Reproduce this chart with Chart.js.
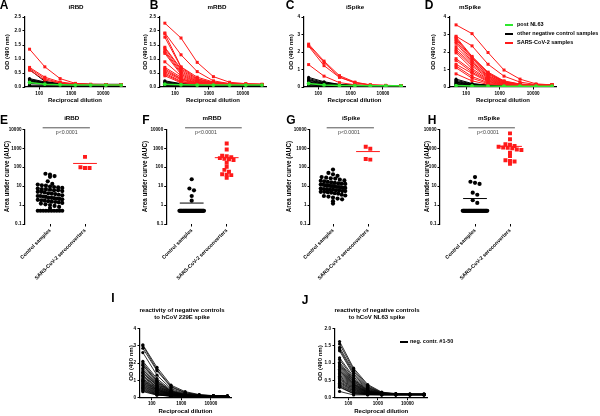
<!DOCTYPE html>
<html>
<head>
<meta charset="utf-8">
<script src="https://cdn.jsdelivr.net/npm/chart.js@4.4.0/dist/chart.umd.min.js"></script>
<style>
  html, body { margin: 0; padding: 0; background: #fff; }
  #fig { position: relative; width: 600px; height: 416px; overflow: hidden; font-family: "Liberation Sans", Arial, sans-serif; }
  #fig canvas { position: absolute; }
  .txt { position: absolute; white-space: nowrap; line-height: 1; color: #000; }
</style>
</head>
<body>
<div id="fig"></div>
<script>
// ---- data ----
const dilutions = [50, 150, 450, 1350, 4050, 12150, 36450];
const dilutionTicks = [100, 1000, 10000];
const aucTicks = [0.1, 1, 10, 100, 1000, 10000];
const groups = ['Control samples', 'SARS-CoV-2 seroconverters'];

// A iRBD
const iRBDPost = [0.16, 0.10, 0.08, 0.07, 0.07, 0.07, 0.07];
const iRBDNeg = [
  [0.62, 0.20, 0.12, 0.10, 0.09, 0.09, 0.09],
  [0.30, 0.18, 0.12, 0.10, 0.09, 0.09, 0.09],
  [0.27, 0.16, 0.11, 0.10, 0.09, 0.09, 0.09],
  [0.25, 0.15, 0.11, 0.10, 0.09, 0.09, 0.09],
  [0.22, 0.14, 0.10, 0.09, 0.09, 0.09, 0.09],
  [0.20, 0.13, 0.10, 0.09, 0.09, 0.09, 0.09],
  [0.18, 0.12, 0.10, 0.09, 0.09, 0.09, 0.09],
  [0.15, 0.11, 0.09, 0.09, 0.09, 0.09, 0.09],
  [0.12, 0.10, 0.09, 0.09, 0.09, 0.09, 0.09],
  [0.06, 0.06, 0.06, 0.06, 0.06, 0.06, 0.06]
];
const iRBDSars = [
  [1.35, 0.72, 0.30, 0.13, 0.10, 0.09, 0.09],
  [0.70, 0.35, 0.18, 0.11, 0.09, 0.09, 0.08],
  [0.66, 0.30, 0.15, 0.10, 0.09, 0.08, 0.08],
  [0.60, 0.25, 0.14, 0.10, 0.09, 0.08, 0.08]
];

// B mRBD
const mRBDPost = [0.10, 0.08, 0.07, 0.07, 0.07, 0.07, 0.07];
const mRBDNeg = [
  [0.22, 0.12, 0.10, 0.09, 0.09, 0.09, 0.09],
  [0.19, 0.11, 0.09, 0.09, 0.09, 0.09, 0.09],
  [0.16, 0.10, 0.09, 0.09, 0.09, 0.09, 0.09],
  [0.14, 0.10, 0.09, 0.08, 0.08, 0.08, 0.08],
  [0.12, 0.09, 0.08, 0.08, 0.08, 0.08, 0.08],
  [0.10, 0.09, 0.08, 0.08, 0.08, 0.08, 0.08],
  [0.08, 0.08, 0.07, 0.07, 0.07, 0.07, 0.07],
  [0.05, 0.05, 0.05, 0.05, 0.05, 0.05, 0.05]
];
const mRBDSars = [
  [2.28, 1.75, 0.88, 0.37, 0.17, 0.12, 0.10],
  [1.93, 1.15, 0.55, 0.22, 0.12, 0.10, 0.09],
  [1.90, 0.72, 0.35, 0.18, 0.12, 0.10, 0.09],
  [1.78, 0.70, 0.30, 0.16, 0.11, 0.10, 0.09],
  [1.42, 0.65, 0.28, 0.15, 0.11, 0.09, 0.09],
  [1.38, 0.60, 0.25, 0.14, 0.10, 0.09, 0.09],
  [1.30, 0.55, 0.22, 0.13, 0.10, 0.09, 0.09],
  [1.25, 0.50, 0.20, 0.12, 0.10, 0.09, 0.09],
  [1.20, 0.45, 0.18, 0.12, 0.10, 0.09, 0.09],
  [0.90, 0.40, 0.17, 0.11, 0.10, 0.09, 0.09],
  [0.70, 0.35, 0.15, 0.11, 0.09, 0.09, 0.09],
  [0.65, 0.30, 0.14, 0.10, 0.09, 0.09, 0.09],
  [0.60, 0.28, 0.13, 0.10, 0.09, 0.09, 0.09],
  [0.55, 0.25, 0.12, 0.10, 0.09, 0.09, 0.09],
  [0.50, 0.20, 0.12, 0.10, 0.09, 0.09, 0.09],
  [0.45, 0.18, 0.11, 0.09, 0.09, 0.09, 0.09],
  [0.40, 0.15, 0.11, 0.09, 0.09, 0.09, 0.09]
];

// C iSpike
const iSpikePost = [0.20, 0.12, 0.09, 0.08, 0.07, 0.07, 0.07];
const iSpikeNeg = [
  [0.55, 0.30, 0.15, 0.10, 0.08, 0.08, 0.08],
  [0.48, 0.26, 0.14, 0.10, 0.08, 0.08, 0.08],
  [0.42, 0.22, 0.13, 0.09, 0.08, 0.08, 0.08],
  [0.38, 0.20, 0.12, 0.09, 0.08, 0.08, 0.08],
  [0.32, 0.18, 0.11, 0.09, 0.08, 0.08, 0.08],
  [0.28, 0.16, 0.10, 0.09, 0.08, 0.08, 0.08],
  [0.22, 0.14, 0.10, 0.08, 0.08, 0.08, 0.08],
  [0.18, 0.12, 0.09, 0.08, 0.08, 0.08, 0.08],
  [0.14, 0.10, 0.09, 0.08, 0.08, 0.08, 0.08],
  [0.10, 0.08, 0.08, 0.08, 0.08, 0.08, 0.08]
];
const iSpikeSars = [
  [2.45, 1.48, 0.65, 0.28, 0.12, 0.09, 0.08],
  [2.38, 1.40, 0.58, 0.25, 0.12, 0.09, 0.08],
  [2.33, 1.22, 0.55, 0.24, 0.11, 0.09, 0.08],
  [1.28, 0.62, 0.25, 0.13, 0.09, 0.08, 0.08]
];

// D mSpike
const mSpikePost = [0.08, 0.06, 0.05, 0.05, 0.05, 0.05, 0.05];
const mSpikeNeg = [
  [0.45, 0.20, 0.10, 0.08, 0.08, 0.08, 0.08],
  [0.38, 0.17, 0.10, 0.08, 0.08, 0.08, 0.08],
  [0.32, 0.15, 0.09, 0.08, 0.08, 0.08, 0.08],
  [0.28, 0.13, 0.09, 0.08, 0.08, 0.08, 0.08],
  [0.24, 0.12, 0.09, 0.08, 0.08, 0.08, 0.08],
  [0.20, 0.10, 0.08, 0.08, 0.08, 0.08, 0.08],
  [0.16, 0.09, 0.08, 0.08, 0.08, 0.08, 0.08],
  [0.12, 0.08, 0.08, 0.08, 0.08, 0.08, 0.08],
  [0.08, 0.07, 0.07, 0.07, 0.07, 0.07, 0.07],
  [0.05, 0.05, 0.05, 0.05, 0.05, 0.05, 0.05]
];
const mSpikeSars = [
  [3.55, 3.05, 1.97, 0.97, 0.45, 0.18, 0.12],
  [2.90, 2.35, 1.30, 0.62, 0.28, 0.14, 0.11],
  [2.85, 1.75, 0.85, 0.35, 0.17, 0.12, 0.10],
  [2.78, 1.70, 0.80, 0.32, 0.16, 0.11, 0.10],
  [2.70, 1.65, 0.78, 0.30, 0.15, 0.11, 0.10],
  [2.60, 1.55, 0.72, 0.28, 0.14, 0.11, 0.10],
  [2.50, 1.45, 0.65, 0.26, 0.14, 0.11, 0.10],
  [2.30, 1.40, 0.60, 0.25, 0.13, 0.10, 0.10],
  [2.15, 1.30, 0.55, 0.22, 0.12, 0.10, 0.10],
  [2.05, 1.20, 0.50, 0.20, 0.12, 0.10, 0.10],
  [1.95, 1.05, 0.45, 0.18, 0.11, 0.10, 0.10],
  [1.62, 0.95, 0.40, 0.17, 0.11, 0.10, 0.10],
  [1.52, 0.85, 0.35, 0.15, 0.11, 0.10, 0.10],
  [1.30, 0.78, 0.30, 0.14, 0.10, 0.10, 0.10],
  [1.20, 0.60, 0.25, 0.13, 0.10, 0.10, 0.10],
  [1.10, 0.50, 0.20, 0.12, 0.10, 0.10, 0.10],
  [0.75, 0.35, 0.15, 0.11, 0.10, 0.10, 0.10]
];

// E-H area under curve
const aucIRBDCtrl = [45, 40, 34, 31, 18, 13, 12, 11, 10.5, 9.5, 9, 8.5, 8, 7.5, 7, 7, 6.5, 6, 6, 5.5, 5, 5,
  4.6, 4.2, 4, 3.8, 3.5, 3.3, 3, 3, 2.8, 2.7, 2.5, 2.4, 2.3, 2.2, 2.1, 2, 1.9, 1.8, 1.7, 1.6, 1.5, 1.45,
  1.4, 1.3, 1.2, 1.1, 1, 0.9, 0.8, 0.7, 0.5, 0.5, 0.5, 0.5, 0.5, 0.5, 0.5, 0.5, 0.5, 0.5];
const aucIRBDSars = [350, 100, 90, 90];
const aucMRBDCtrl = [23, 7.5, 6, 3, 1.7].concat(Array(45).fill(0.5));
const aucMRBDSars = [1800, 850, 400, 380, 340, 300, 280, 260, 240, 170, 105, 72, 58, 42, 40, 38, 28];
const aucISpikeCtrl = [75, 50, 42, 35, 30, 28, 26, 25, 22, 20, 19, 18, 17, 16, 15, 14, 13.5, 13, 12, 12, 11,
  11, 10.5, 10, 10, 9.5, 9, 9, 8.5, 8, 8, 7.5, 7, 7, 6.5, 6.5, 6, 6, 5.5, 5.5, 5, 5, 4.8, 4.5, 4.2, 4, 3.5,
  3.2, 3, 2.8, 2.5, 2.2, 2, 1.6, 1.2];
const aucISpikeSars = [1200, 950, 270, 250];
const aucMSpikeCtrl = [30, 17, 15, 13, 4.5, 3.5, 1.8, 1.3].concat(Array(40).fill(0.5));
const aucMSpikeSars = [6100, 2950, 1650, 1550, 1300, 1200, 1100, 1050, 1000, 850, 800, 580, 390, 230, 215, 200, 150];

// I hCoV 229E spike
const neg229E = [
  [3.05, 1.75, 0.72, 0.35, 0.18, 0.12, 0.10],
  [3.00, 1.62, 0.65, 0.30, 0.16, 0.11, 0.10],
  [2.85, 1.55, 0.60, 0.28, 0.15, 0.11, 0.09],
  [2.60, 1.30, 0.52, 0.24, 0.14, 0.10, 0.09],
  [2.10, 1.10, 0.45, 0.21, 0.12, 0.10, 0.09],
  [2.00, 1.00, 0.40, 0.19, 0.12, 0.10, 0.09],
  [1.90, 0.95, 0.38, 0.18, 0.11, 0.09, 0.09],
  [1.85, 0.90, 0.36, 0.17, 0.11, 0.09, 0.08],
  [1.70, 0.85, 0.34, 0.16, 0.11, 0.09, 0.08],
  [1.60, 0.80, 0.32, 0.15, 0.10, 0.09, 0.08],
  [1.50, 0.75, 0.30, 0.15, 0.10, 0.09, 0.08],
  [1.45, 0.70, 0.28, 0.14, 0.10, 0.09, 0.08],
  [1.40, 0.68, 0.27, 0.13, 0.10, 0.09, 0.08],
  [1.30, 0.62, 0.25, 0.13, 0.10, 0.09, 0.08],
  [1.25, 0.60, 0.24, 0.12, 0.10, 0.09, 0.08],
  [1.20, 0.55, 0.22, 0.12, 0.09, 0.08, 0.08],
  [1.10, 0.52, 0.21, 0.12, 0.09, 0.08, 0.08],
  [1.05, 0.50, 0.20, 0.11, 0.09, 0.08, 0.08],
  [1.00, 0.46, 0.19, 0.11, 0.09, 0.08, 0.08],
  [0.95, 0.44, 0.18, 0.11, 0.09, 0.08, 0.08],
  [0.90, 0.42, 0.17, 0.10, 0.09, 0.08, 0.08],
  [0.85, 0.38, 0.16, 0.10, 0.09, 0.08, 0.08],
  [0.80, 0.36, 0.15, 0.10, 0.09, 0.08, 0.08],
  [0.75, 0.33, 0.14, 0.10, 0.08, 0.08, 0.08],
  [0.70, 0.30, 0.13, 0.09, 0.08, 0.08, 0.08],
  [0.65, 0.28, 0.12, 0.09, 0.08, 0.08, 0.08],
  [0.60, 0.25, 0.11, 0.09, 0.08, 0.08, 0.08],
  [0.55, 0.22, 0.10, 0.09, 0.08, 0.08, 0.08],
  [0.50, 0.20, 0.10, 0.08, 0.08, 0.08, 0.08],
  [0.45, 0.18, 0.09, 0.08, 0.08, 0.08, 0.08],
  [0.40, 0.16, 0.09, 0.08, 0.08, 0.08, 0.08],
  [0.35, 0.15, 0.09, 0.08, 0.08, 0.08, 0.08]
];

// J hCoV NL63 spike
const negNL63 = [
  [1.62, 0.85, 0.38, 0.16, 0.12, 0.11, 0.11],
  [1.55, 0.80, 0.35, 0.15, 0.11, 0.10, 0.10],
  [1.45, 0.75, 0.32, 0.14, 0.11, 0.10, 0.10],
  [1.40, 0.70, 0.30, 0.13, 0.11, 0.10, 0.10],
  [1.35, 0.65, 0.28, 0.13, 0.10, 0.10, 0.10],
  [1.15, 0.60, 0.26, 0.12, 0.10, 0.10, 0.10],
  [1.10, 0.55, 0.24, 0.12, 0.10, 0.10, 0.10],
  [1.02, 0.52, 0.22, 0.12, 0.10, 0.10, 0.10],
  [0.98, 0.50, 0.21, 0.11, 0.10, 0.10, 0.09],
  [0.94, 0.47, 0.20, 0.11, 0.10, 0.09, 0.09],
  [0.90, 0.45, 0.19, 0.11, 0.10, 0.09, 0.09],
  [0.86, 0.42, 0.18, 0.11, 0.09, 0.09, 0.09],
  [0.82, 0.40, 0.17, 0.10, 0.09, 0.09, 0.09],
  [0.78, 0.38, 0.16, 0.10, 0.09, 0.09, 0.09],
  [0.74, 0.36, 0.16, 0.10, 0.09, 0.09, 0.09],
  [0.70, 0.34, 0.15, 0.10, 0.09, 0.09, 0.09],
  [0.66, 0.32, 0.14, 0.10, 0.09, 0.09, 0.09],
  [0.62, 0.30, 0.14, 0.10, 0.09, 0.09, 0.09],
  [0.58, 0.28, 0.13, 0.09, 0.09, 0.09, 0.09],
  [0.55, 0.26, 0.12, 0.09, 0.09, 0.09, 0.09],
  [0.52, 0.24, 0.12, 0.09, 0.09, 0.09, 0.09],
  [0.48, 0.22, 0.11, 0.09, 0.09, 0.09, 0.09],
  [0.45, 0.20, 0.11, 0.09, 0.09, 0.09, 0.09],
  [0.42, 0.18, 0.10, 0.09, 0.09, 0.09, 0.09],
  [0.38, 0.16, 0.10, 0.09, 0.09, 0.09, 0.09],
  [0.35, 0.14, 0.10, 0.09, 0.09, 0.09, 0.09],
  [0.32, 0.12, 0.09, 0.09, 0.09, 0.09, 0.09],
  [0.30, 0.11, 0.09, 0.08, 0.08, 0.08, 0.08],
  [0.18, 0.08, 0.08, 0.08, 0.08, 0.08, 0.08]
];

// ---- drawing ----
const RED = '#ff1a1a', GREEN = '#2ee82e', BLACK = '#000';
const FONT = 'Liberation Sans';
Chart.defaults.font.family = FONT;
Chart.defaults.color = '#000';

const fig = document.getElementById('fig');

function addCanvas(box) {
  const c = document.createElement('canvas');
  c.width = box[2]; c.height = box[3];
  c.style.left = box[0] + 'px'; c.style.top = box[1] + 'px';
  fig.appendChild(c);
  return c;
}

function text(str, x, y, size, opt) {
  opt = opt || {};
  const d = document.createElement('div');
  d.className = 'txt';
  d.innerHTML = str;
  d.style.left = x + 'px'; d.style.top = y + 'px';
  d.style.fontSize = size + 'px';
  d.style.fontWeight = opt.weight || 'bold';
  if (opt.color) d.style.color = opt.color;
  if (opt.lh) d.style.lineHeight = opt.lh + 'px';
  d.style.textAlign = 'center';
  d.style.transform = opt.left ? 'translate(0,-50%)' : 'translate(-50%,-50%)';
  fig.appendChild(d);
}

function curves(rows, color, style, radius, width) {
  return rows.map(r => ({
    data: r.map((v, i) => ({ x: dilutions[i], y: v })),
    borderColor: color, backgroundColor: color,
    borderWidth: width, pointStyle: style, pointRadius: radius, pointBorderWidth: 0
  }));
}

const tickFont = { family: FONT, size: 4.6, weight: 'bold' };
const axisTitleFont = { family: FONT, size: 6, weight: 'bold' };

function lineChart(p) {
  const [bl, bt, bw, bh] = p.box;
  const padLeft = p.yTitleX - bl - 3.6;
  new Chart(addCanvas(p.box), {
    type: 'line',
    data: { datasets: p.datasets },
    options: {
      responsive: false, animation: false, events: [],
      layout: { padding: { left: padLeft, right: bl + bw - p.area.right, top: p.area.top - bt, bottom: 0 } },
      plugins: { legend: { display: false }, tooltip: { enabled: false } },
      scales: {
        x: {
          type: 'logarithmic', min: p.xMin, max: 48000,
          afterBuildTicks: s => { s.ticks = dilutionTicks.map(v => ({ value: v })); },
          afterFit: s => { s.height = bt + bh - p.area.bottom; },
          ticks: { callback: v => String(v), font: tickFont, color: '#000', padding: 1, maxRotation: 0, autoSkip: false },
          grid: { drawOnChartArea: false, tickLength: 2.5, color: '#000' },
          border: { color: '#000', width: 1.2 },
          title: { display: true, text: 'Reciprocal dilution', font: axisTitleFont, color: '#000',
                   padding: { top: 0, bottom: bt + bh - p.xTitleY - 3.6 } }
        },
        y: {
          min: 0, max: p.yMax,
          afterFit: s => { s.width = p.area.left - bl - padLeft; },
          ticks: { stepSize: p.yStep, callback: v => v.toFixed(p.yDec), font: tickFont, color: '#000', padding: 1.5 },
          grid: { drawOnChartArea: false, tickLength: 2.5, color: '#000' },
          border: { color: '#000', width: 1.2 },
          title: { display: true, text: 'OD (490 nm)', font: axisTitleFont, color: '#000', padding: 0 }
        }
      }
    }
  });
}

function overview(post, neg, sars) {
  return curves([post], GREEN, 'circle', 1.9, 1.5)
    .concat(curves(sars, RED, 'rect', 2.1, 1))
    .concat(curves(neg, BLACK, 'circle', 1.6, 1));
}

const mean = a => a.reduce((s, v) => s + v, 0) / a.length;

function swarm(values, center) {
  const binned = {};
  values.forEach((v, i) => {
    const k = Math.round(Math.log10(v) / 0.2);
    (binned[k] = binned[k] || []).push(i);
  });
  const xs = [];
  Object.values(binned).forEach(idx => {
    const n = idx.length;
    const step = n > 1 ? Math.min(0.13, 0.7 / (n - 1)) : 0;
    idx.forEach((i, j) => { xs[i] = center + (j - (n - 1) / 2) * step; });
  });
  return values.map((v, i) => ({ x: xs[i], y: v }));
}

function dotChart(p) {
  const [bl, bt, bw, bh] = p.box;
  const unit = 35;
  const xMin = 1 - (p.c1 - p.area.left) / unit;
  const xMax = xMin + (p.area.right - p.area.left) / unit;
  const padLeft = p.yTitleX - bl - 3.8;
  const mC = mean(p.ctrl), mS = mean(p.sars);
  new Chart(addCanvas(p.box), {
    type: 'scatter',
    data: {
      datasets: [
        { data: [{ x: p.sig[0], y: 12000 }, { x: p.sig[1], y: 12000 }], showLine: true, clip: false,
          borderColor: '#555', borderWidth: 1, pointRadius: 0 },
        { data: [{ x: 2 - 0.34, y: mS }, { x: 2 + 0.34, y: mS }], showLine: true, borderColor: RED, borderWidth: 1, pointRadius: 0 },
        { data: [{ x: 1 - 0.34, y: mC }, { x: 1 + 0.34, y: mC }], showLine: true, borderColor: BLACK, borderWidth: 1, pointRadius: 0 },
        { data: swarm(p.sars, 2), pointStyle: 'rect', pointRadius: 2.8, backgroundColor: RED, borderColor: RED, pointBorderWidth: 0 },
        { data: swarm(p.ctrl, 1), pointStyle: 'circle', pointRadius: 2.1, backgroundColor: BLACK, borderColor: BLACK, pointBorderWidth: 0 }
      ]
    },
    options: {
      responsive: false, animation: false, events: [],
      layout: { padding: { left: padLeft, right: bl + bw - p.area.right, top: p.area.top - bt, bottom: 0 } },
      plugins: { legend: { display: false }, tooltip: { enabled: false } },
      scales: {
        x: {
          type: 'linear', min: xMin, max: xMax,
          afterBuildTicks: s => { s.ticks = [{ value: 1 }, { value: 2 }]; },
          afterFit: s => { s.height = bt + bh - p.area.bottom; },
          ticks: { callback: (v, i) => groups[i], font: { family: FONT, size: 5.2, weight: 'bold' }, color: '#000',
                   minRotation: 45, maxRotation: 45, autoSkip: false, padding: 1 },
          grid: { drawOnChartArea: false, tickLength: 2.5, color: '#000' },
          border: { display: false }
        },
        y: {
          type: 'logarithmic', min: 0.1, max: 10000,
          afterBuildTicks: s => { s.ticks = aucTicks.map(v => ({ value: v })); },
          afterFit: s => { s.width = p.area.left - bl - padLeft; },
          ticks: { callback: v => String(v), font: tickFont, color: '#000', padding: 1 },
          grid: { drawOnChartArea: false, tickLength: 2.5, color: '#000' },
          border: { color: '#000', width: 1.2 },
          title: { display: true, text: 'Area under curve (AUC)', font: { family: FONT, size: 6.3, weight: 'bold' }, color: '#000', padding: 0 }
        }
      }
    }
  });
}

// row 1: titration curves
const row1 = { top: 17, bottom: 87 };
lineChart({ box: [0, 10, 135, 100], area: { left: 25, right: 125, ...row1 }, yTitleX: 7, xTitleY: 100,
  xMin: 36, yMax: 2.5, yStep: 0.5, yDec: 1, datasets: overview(iRBDPost, iRBDNeg, iRBDSars) });
lineChart({ box: [138, 10, 135, 100], area: { left: 160, right: 266, ...row1 }, yTitleX: 145, xTitleY: 100,
  xMin: 36, yMax: 2.5, yStep: 0.5, yDec: 1, datasets: overview(mRBDPost, mRBDNeg, mRBDSars) });
lineChart({ box: [283, 10, 130, 100], area: { left: 304, right: 405, ...row1 }, yTitleX: 291.7, xTitleY: 100,
  xMin: 36, yMax: 4, yStep: 1, yDec: 0, datasets: overview(iSpikePost, iSpikeNeg, iSpikeSars) });
lineChart({ box: [425, 10, 175, 100], area: { left: 450, right: 556, ...row1 }, yTitleX: 433.3, xTitleY: 100,
  xMin: 33, yMax: 4, yStep: 1, yDec: 0, datasets: overview(mSpikePost, mSpikeNeg, mSpikeSars) });

// row 2: AUC dot plots
const row2 = { top: 129.3, bottom: 224 };
dotChart({ box: [0, 110, 110, 175], area: { left: 25, right: 106, ...row2 }, c1: 50, yTitleX: 7.3,
  sig: [0.79, 2.14], ctrl: aucIRBDCtrl, sars: aucIRBDSars });
dotChart({ box: [138, 110, 115, 175], area: { left: 166.7, right: 248, ...row2 }, c1: 191.7, yTitleX: 145,
  sig: [0.81, 2.43], ctrl: aucMRBDCtrl, sars: aucMRBDSars });
dotChart({ box: [283, 110, 110, 175], area: { left: 310, right: 389, ...row2 }, c1: 333, yTitleX: 289,
  sig: [0.82, 2.17], ctrl: aucISpikeCtrl, sars: aucISpikeSars });
dotChart({ box: [413, 110, 125, 175], area: { left: 440, right: 531, ...row2 }, c1: 475, yTitleX: 427.7,
  sig: [0.81, 2.14], ctrl: aucMSpikeCtrl, sars: aucMSpikeSars });

// row 3: negative controls vs common cold CoV spikes
const row3 = { top: 328.3, bottom: 397.7 };
lineChart({ box: [100, 290, 140, 126], area: { left: 140, right: 231, ...row3 }, yTitleX: 131, xTitleY: 411.7,
  xMin: 40, yMax: 4, yStep: 1, yDec: 0, datasets: curves(neg229E, BLACK, 'circle', 1.6, 0.8) });
lineChart({ box: [300, 290, 140, 126], area: { left: 335, right: 427.5, ...row3 }, yTitleX: 320, xTitleY: 411.7,
  xMin: 35, yMax: 2, yStep: 0.5, yDec: 1, datasets: curves(negNL63, BLACK, 'circle', 1.6, 0.8) });

// ---- text ----
[['A', 4, 4.5], ['B', 154, 4.5], ['C', 290, 4.5], ['D', 429, 4.5],
 ['E', 4, 120], ['F', 146, 120], ['G', 291, 120], ['H', 432, 120],
 ['I', 113, 298], ['J', 305, 300]].forEach(l => text(l[0], l[1], l[2], 12));

[['iRBD', 76, 7], ['mRBD', 217, 7], ['iSpike', 355, 7], ['mSpike', 470, 7],
 ['iRBD', 71.7, 118.3], ['mRBD', 212, 118.3], ['iSpike', 351, 118.3], ['mSpike', 489, 118.3]]
  .forEach(t => text(t[0], t[1], t[2], 6.2));

[[66.7, 132.7], [206, 132.7], [349, 132.7], [488, 132.7]]
  .forEach(p => text('p&lt;0.0001', p[0], p[1], 5.2, { weight: 'normal', color: '#444' }));

text('reactivity of negative controls<br>to hCoV 229E spike', 182, 313.5, 6, { lh: 7 });
text('reactivity of negative controls<br>to hCoV NL63 spike', 377, 313.5, 6, { lh: 7 });

// legends
function swatch(x, y, color) {
  const s = document.createElement('div');
  s.style.cssText = 'position:absolute;left:' + x + 'px;top:' + (y - 1.2) + 'px;width:8px;height:2.4px;background:' + color;
  fig.appendChild(s);
}
[['post NL63', GREEN, 25], ['other negative control samples', BLACK, 34], ['SARS-CoV-2 samples', RED, 43]]
  .forEach(l => { swatch(505, l[2], l[1]); text(l[0], 517, l[2], 5.5, { left: true }); });
swatch(400, 342, BLACK);
text('neg. contr. #1-50', 410, 342, 5.5, { left: true });
</script>
</body>
</html>
